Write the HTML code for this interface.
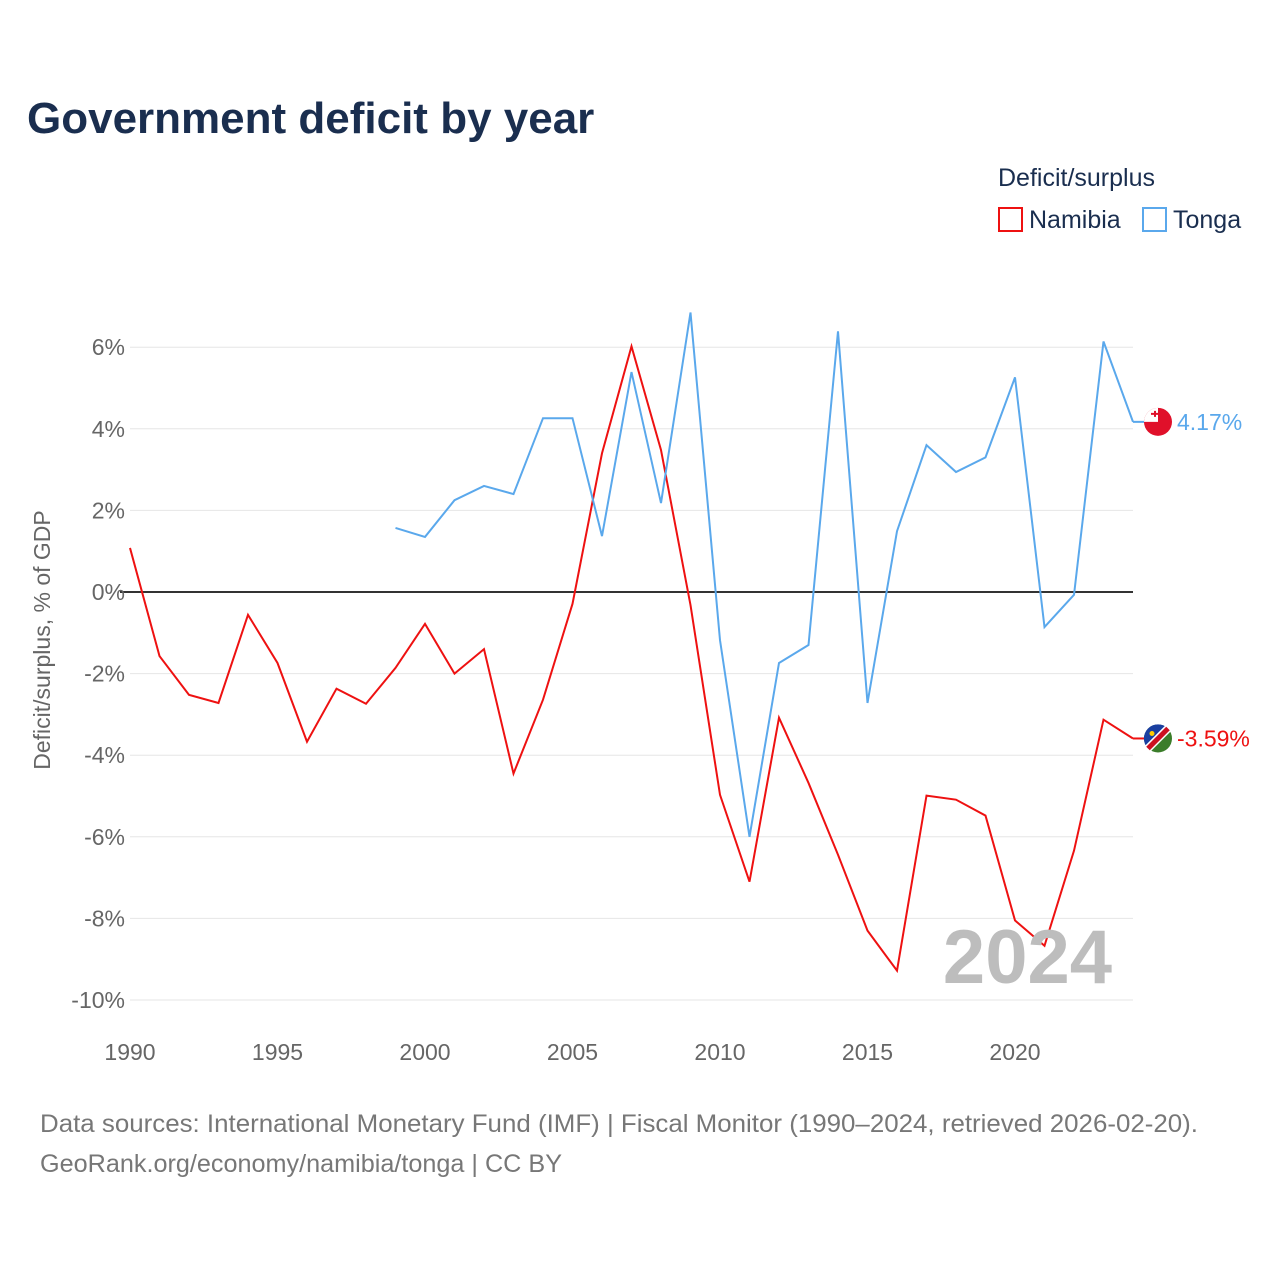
<!DOCTYPE html>
<html><head><meta charset="utf-8"><style>
body{margin:0;background:#fff;font-family:"Liberation Sans",sans-serif;}
svg text{font-family:"Liberation Sans",sans-serif;}
</style></head><body>
<svg width="1280" height="1280" xmlns="http://www.w3.org/2000/svg" id="chart">
<text x="27" y="133" font-size="44" font-weight="bold" fill="#1a2e4f">Government deficit by year</text>
<text x="998" y="186" font-size="25" fill="#1a2e4f">Deficit/surplus</text>
<g><rect x="999" y="208" width="23" height="23" fill="none" stroke="#ee1111" stroke-width="2"/><text x="1029" y="228" font-size="25" fill="#1a2e4f">Namibia</text></g>
<g><rect x="1143" y="208" width="23" height="23" fill="none" stroke="#5aa8ec" stroke-width="2"/><text x="1173" y="228" font-size="25" fill="#1a2e4f">Tonga</text></g>
<g id="grid"></g><g id="yticks"></g><g id="xticks"></g><g id="series"></g>
<text x="1112" y="983" font-size="76" font-weight="bold" fill="#bdbdbd" text-anchor="end">2024</text>
<text transform="translate(50,640) rotate(-90)" font-size="23" fill="#666" text-anchor="middle">Deficit/surplus, % of GDP</text>
<text x="40" y="1132" font-size="25" fill="#777" textLength="1158" lengthAdjust="spacingAndGlyphs">Data sources: International Monetary Fund (IMF) | Fiscal Monitor (1990–2024, retrieved 2026-02-20).</text>
<text x="40" y="1172" font-size="25" fill="#777" textLength="522" lengthAdjust="spacingAndGlyphs">GeoRank.org/economy/namibia/tonga | CC BY</text>
</svg>
<script>
const years=[];for(let y=1990;y<=2024;y++)years.push(y);
const namibia=[1.08,-1.57,-2.52,-2.72,-0.56,-1.74,-3.67,-2.37,-2.74,-1.86,-0.78,-2.0,-1.4,-4.45,-2.64,-0.29,3.4,6.02,3.48,-0.32,-4.97,-7.1,-3.08,-4.68,-6.44,-8.3,-9.28,-4.99,-5.09,-5.48,-8.05,-8.67,-6.34,-3.13,-3.59];
const tongaYears=[1999,2000,2001,2002,2003,2004,2005,2006,2007,2008,2009,2010,2011,2012,2013,2014,2015,2016,2017,2018,2019,2020,2021,2022,2023,2024];
const tonga=[1.57,1.35,2.25,2.6,2.4,4.26,4.26,1.37,5.39,2.18,6.85,-1.18,-6.0,-1.74,-1.3,6.39,-2.72,1.49,3.6,2.94,3.3,5.26,-0.86,-0.07,6.14,4.17];
const yTicks=[6,4,2,0,-2,-4,-6,-8,-10];
const xTicks=[1990,1995,2000,2005,2010,2015,2020];
const NS="http://www.w3.org/2000/svg";
const X=y=>130+(y-1990)*(1003/34);
const Y=v=>592-v*40.8;
function mk(t,a,p){const e=document.createElementNS(NS,t);for(const k in a)e.setAttribute(k,a[k]);document.getElementById(p).appendChild(e);return e;}
yTicks.forEach(v=>{
 const l=mk('line',{x1:v===0?120:130,x2:1133,y1:Y(v),y2:Y(v),stroke:v===0?'#333':'#e6e6e6','stroke-width':v===0?2:1},'grid');
 
 
 const t=mk('text',{x:125,y:Y(v)+8,'font-size':23,fill:'#666','text-anchor':'end'},'yticks');
 t.textContent=v+'%';
 
 
});
xTicks.forEach(y=>{
 const t=mk('text',{x:X(y),y:1060,'font-size':23,fill:'#666','text-anchor':'middle'},'xticks');
 t.textContent=y;
 
 
});
const pn=mk('polyline',{points:years.map((y,i)=>X(y)+','+Y(namibia[i])).join(' '),fill:'none',stroke:'#ee1111','stroke-width':2},'series');


const pt=mk('polyline',{points:tongaYears.map((y,i)=>X(y)+','+Y(tonga[i])).join(' '),fill:'none',stroke:'#5aa8ec','stroke-width':2},'series');


function end(val,col,name,flag){
 const y=Y(val);
 mk('line',{x1:1133,x2:1146,y1:y,y2:y,stroke:col,'stroke-width':2},'series');
 const g=mk('g',{},'series');
 
 
 flag(g,1158,y);
 const t=mk('text',{x:1177,y:y+8,'font-size':23,fill:col},'series');
 t.textContent=val.toFixed(2)+'%';
 
 
}
function ch(g,t,a){const e=document.createElementNS(NS,t);for(const k in a)e.setAttribute(k,a[k]);g.appendChild(e);return e;}
end(tonga[tonga.length-1],'#5aa8ec','tonga',(g,cx,cy)=>{
 ch(g,'circle',{cx,cy,r:14,fill:'#e0102a'});
 ch(g,'path',{d:`M${cx-14},${cy} A14,14 0 0 1 ${cx},${cy-14} L${cx},${cy} Z`,fill:'#fff'});
 ch(g,'path',{d:`M${cx-7},${cy-9}h3v-2h2v2h3v2h-3v2h-2v-2h-3z`,fill:'#e0102a'});
});
end(namibia[namibia.length-1],'#ee1111','namibia',(g,cx,cy)=>{
 ch(g,'circle',{cx,cy,r:14,fill:'#3b7d2a'});
 ch(g,'path',{d:`M${cx-10},${cy+10} A14,14 0 0 1 ${cx+10},${cy-10} Z`,fill:'#1a3fa0'});
 ch(g,'line',{x1:cx-10,y1:cy+10,x2:cx+10,y2:cy-10,stroke:'#fff','stroke-width':8});
 ch(g,'line',{x1:cx-10,y1:cy+10,x2:cx+10,y2:cy-10,stroke:'#cc1020','stroke-width':5});
 ch(g,'circle',{cx:cx-6,cy:cy-5,r:2.5,fill:'#ffcc00'});
});
</script>
</body></html>
